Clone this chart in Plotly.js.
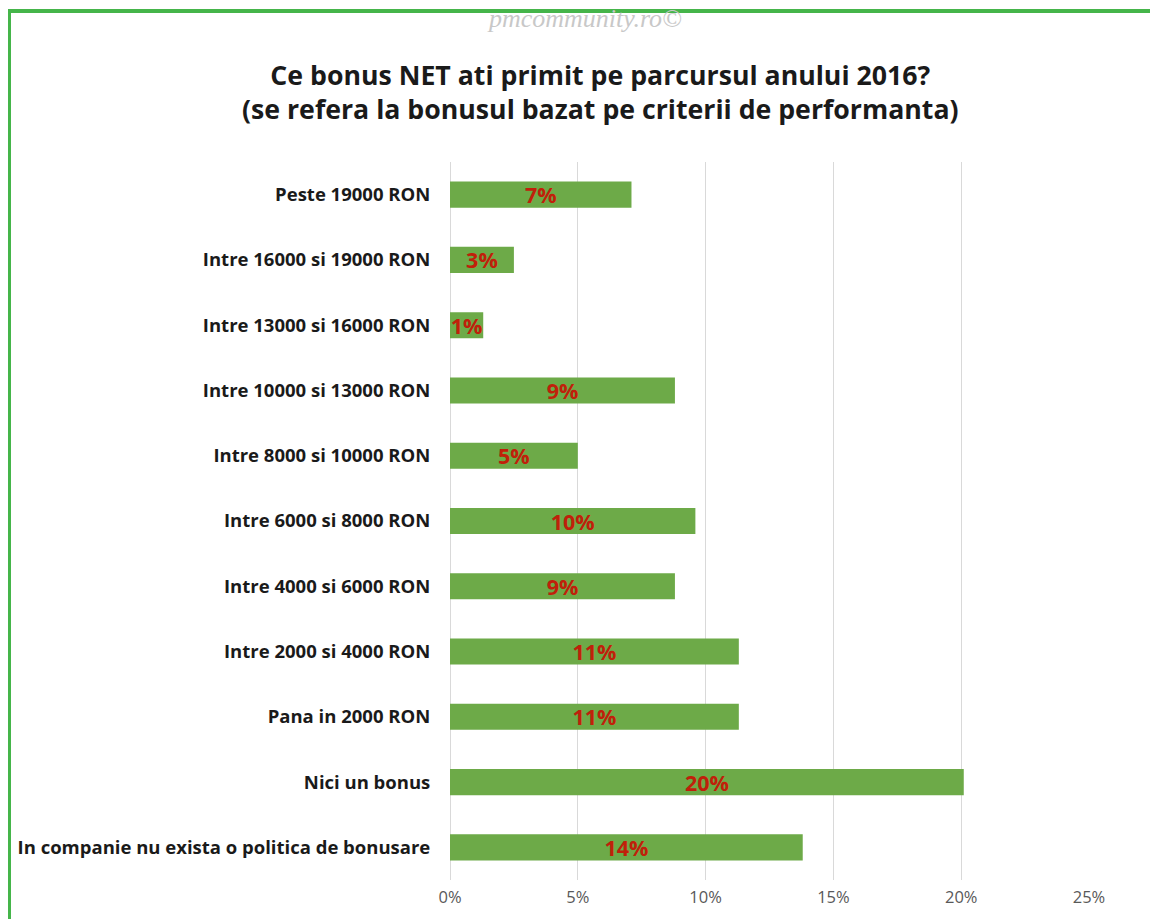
<!DOCTYPE html>
<html>
<head>
<meta charset="utf-8">
<script src="https://cdn.plot.ly/plotly-3.0.1.min.js"></script>
<style>
  html, body { margin: 0; padding: 0; background: #ffffff; }
  #wrap { position: relative; width: 1150px; height: 919px; overflow: hidden; }
  #chart { width: 1150px; height: 919px; }
  #frame { position: absolute; left: 8px; top: 9px; width: 1160px; height: 930px;
           border-left: 3px solid #45b54a; border-top: 4px solid #45b54a; pointer-events: none; }
  #mark { position: absolute; left: 489px; top: 7px; font-family: "Liberation Serif", serif;
          font-style: italic; font-size: 26px; color: #c8c8c8; line-height: 24px; pointer-events: none; }
</style>
</head>
<body>
<div id="wrap">
  <div id="chart"></div>
  <div id="frame"></div>
  <div id="mark">pmcommunity.ro©</div>
</div>
<script>
// Categories, listed top to bottom as in the picture
var categories = [
  "Peste 19000 RON",
  "Intre 16000 si 19000 RON",
  "Intre 13000 si 16000 RON",
  "Intre 10000 si 13000 RON",
  "Intre 8000 si 10000 RON",
  "Intre 6000 si 8000 RON",
  "Intre 4000 si 6000 RON",
  "Intre 2000 si 4000 RON",
  "Pana in 2000 RON",
  "Nici un bonus",
  "In companie nu exista o politica de bonusare"
];
// Share of respondents (%)
var values = [7.1, 2.5, 1.3, 8.8, 5.0, 9.6, 8.8, 11.3, 11.3, 20.1, 13.8];
// Data labels as printed on the bars
var labels = ["7%", "3%", "1%", "9%", "5%", "10%", "9%", "11%", "11%", "20%", "14%"];
// X-axis ticks
var tickValues = [0, 5, 10, 15, 20, 25];
var tickLabels = ["0%", "5%", "10%", "15%", "20%", "25%"];

var trace = {
  type: "bar",
  orientation: "h",
  y: categories,
  x: values,
  text: labels,
  textposition: "inside",
  insidetextanchor: "middle",
  constraintext: "none",
  textangle: 0,
  textfont: { family: "Open Sans, sans-serif", size: 21.5, color: "#c0200a", weight: "bold" },
  marker: { color: "#6daa48" },
  width: 0.4,
  hoverinfo: "none",
  cliponaxis: false
};

var layout = {
  width: 1150,
  height: 919,
  paper_bgcolor: "#ffffff",
  plot_bgcolor: "#ffffff",
  margin: { l: 450, r: 61, t: 162, b: 39 },
  showlegend: false,
  title: {
    text: "Ce bonus NET ati primit pe parcursul anului 2016?<br>(se refera la bonusul bazat pe criterii de performanta)",
    font: { family: "Open Sans, sans-serif", size: 26.7, color: "#1a1a1a", weight: "bold" },
    x: 0.522, xanchor: "center",
    y: 0.908, yanchor: "middle",
    xref: "container", yref: "container"
  },
  xaxis: {
    range: [0, 25],
    tickvals: tickValues,
    ticktext: tickLabels,
    showgrid: true,
    gridcolor: "#d9d9d9",
    gridwidth: 1,
    zeroline: true,
    zerolinecolor: "#d9d9d9",
    zerolinewidth: 1,
    showline: false,
    ticks: "",
    ticklabelstandoff: 5,
    tickfont: { family: "Open Sans, sans-serif", size: 16.5, color: "#595959" },
    fixedrange: true
  },
  yaxis: {
    type: "category",
    categoryorder: "array",
    categoryarray: categories,
    autorange: "reversed",
    showgrid: false,
    zeroline: false,
    showline: false,
    ticks: "outside",
    ticklen: 15,
    tickcolor: "rgba(0,0,0,0)",
    tickfont: { family: "Open Sans, sans-serif", size: 18.5, color: "#1a1a1a", weight: "bold" },
    fixedrange: true
  },
  bargap: 0.6
};

Plotly.newPlot("chart", [trace], layout, { displayModeBar: false, staticPlot: true });
</script>
</body>
</html>
